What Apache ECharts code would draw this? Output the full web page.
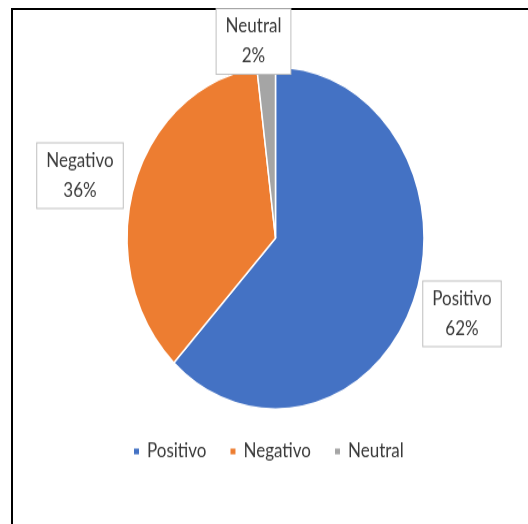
<!DOCTYPE html>
<html>
<head>
<meta charset="utf-8">
<script src="https://cdn.jsdelivr.net/npm/echarts@6/dist/echarts.min.js"></script>
<style>
  body { margin: 0; background: #fff; }
  #wrap { position: relative; width: 528px; height: 524px; overflow: hidden; background: #fff; }
  #frame { position: absolute; left: 11px; top: 8px; width: 600px; height: 600px;
           border-left: 2px solid #000; border-top: 2px solid #000; }
  /* the reference is stretched vertically, so the chart is too */
  #chart { position: absolute; left: 0; top: 0; width: 528px; height: 455px;
           transform: scaleY(1.1516); transform-origin: 0 0; }
</style>
</head>
<body>
<div id="wrap">
  <div id="frame"></div>
  <div id="chart"></div>
</div>
<script>
const categories = ["Positivo", "Negativo", "Neutral"];
const values = [62, 36, 2];
const colors = ["#4472C4", "#ED7D31", "#A5A5A5"];

// label box centres (unscaled px)
const labelSpots = [[462, 272.5], [80, 152.5], [253.5, 36]];

const myChart = echarts.init(document.getElementById("chart"));
myChart.setOption({
  animation: false,
  color: colors,
  legend: {
    data: categories,
    left: 127,
    top: 378.5,
    icon: "rect",
    itemWidth: 7,
    itemHeight: 7,
    itemGap: 22,
    textStyle: { fontFamily: "Lato", fontSize: 17, color: "#3a3a3a", padding: [0, 0, 0, 2] },
  },
  series: [
    {
      type: "pie",
      center: [275.5, 206.7],
      radius: 148.5,
      startAngle: 90,
      clockwise: true,
      itemStyle: { borderColor: "#fff", borderWidth: 1.5 },
      label: {
        show: true,
        position: "inside",
        formatter: "{b}\n{d}%",
        fontFamily: "Lato",
        fontSize: 17,
        lineHeight: 26,
        color: "#3a3a3a",
        backgroundColor: "#fff",
        borderColor: "#BFBFBF",
        borderWidth: 1,
        padding: [2, 9, 2, 9],
        align: "center",
      },
      labelLine: { show: false },
      labelLayout: function (params) {
        const p = labelSpots[params.dataIndex];
        return { x: p[0], y: p[1], align: "center", verticalAlign: "middle" };
      },
      data: categories.map((name, i) => ({ name: name, value: values[i] })),
    },
  ],
});
</script>
</body>
</html>
